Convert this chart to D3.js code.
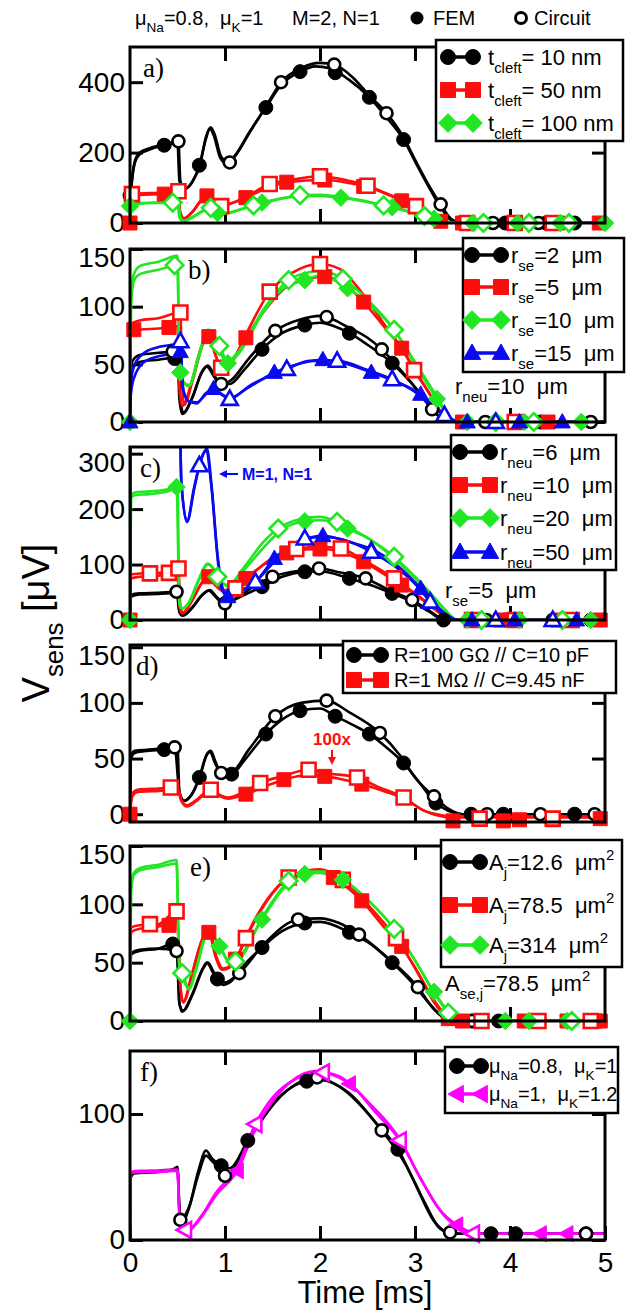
<!DOCTYPE html>
<html>
<head>
<meta charset="utf-8">
<script src="https://cdn.jsdelivr.net/npm/d3@7"></script>
<style>
  body { margin: 0; background: #fff; }
  svg { display: block; font-family: "Liberation Sans", Arial, sans-serif; }
  text { white-space: pre; }
</style>
</head>
<body>
<svg id="chart" width="639" height="1313"></svg>
<script>
// ---------- shared axis data ----------
const timeTicks = [0, 1, 2, 3, 4, 5];
const ticksA = [0, 200, 400];
const ticksB = [0, 50, 100, 150];
const ticksC = [0, 100, 200, 300];
const ticksD = [0, 50, 100, 150];
const ticksE = [0, 50, 100, 150];
const ticksF = [0, 100];

// ---------- panel a: t_cleft ----------
const aT10Fem = [[0,0],[0.01,80],[0.05,170],[0.1,195],[0.2,208],[0.36,221],[0.5,226],[0.52,120],[0.56,95],[0.65,115],[0.73,164],[0.8,240],[0.84,268],[0.88,250],[0.95,185],[1.02,168],[1.1,190],[1.25,255],[1.43,328],[1.6,395],[1.79,430],[1.95,445],[2.1,440],[2.3,408],[2.52,357],[2.7,300],[2.88,237],[3.0,175],[3.15,100],[3.27,45],[3.38,8],[3.5,0],[5,0]];
const aT10Circ = [[0,0],[0.01,85],[0.05,175],[0.1,200],[0.2,212],[0.35,222],[0.51,232],[0.53,120],[0.57,97],[0.66,118],[0.74,168],[0.8,245],[0.85,272],[0.89,252],[0.96,188],[1.04,172],[1.12,195],[1.27,262],[1.45,340],[1.59,400],[1.8,440],[2.0,455],[2.15,450],[2.35,412],[2.52,362],[2.7,312],[2.88,243],[3.0,180],[3.15,105],[3.27,53],[3.38,12],[3.5,0],[5,0]];
const aT10FemMk = [[0,78],[0.36,221],[0.73,164],[1.43,328],[1.79,430],[2.16,427],[2.52,357],[2.88,237],[3.95,0],[4.38,0],[4.68,0]];
const aT10CircMk = [[0.51,232],[1.05,172],[1.59,400],[2.15,450],[2.7,312],[3.27,53],[3.82,0],[4.3,0]];

const aT50Fem = [[0,0],[0.01,78],[0.1,80],[0.3,82],[0.5,85],[0.52,30],[0.56,12],[0.65,30],[0.75,65],[0.81,77],[0.88,60],[0.96,50],[1.05,55],[1.22,72],[1.45,100],[1.65,116],[2.05,122],[2.3,114],[2.5,103],[2.7,82],[2.86,63],[3.0,45],[3.15,22],[3.27,5],[3.4,0],[5,0]];
const aT50Circ = [[0,0],[0.01,82],[0.1,84],[0.3,86],[0.51,90],[0.53,30],[0.57,13],[0.66,32],[0.76,67],[0.82,76],[0.89,58],[0.96,48],[1.05,54],[1.22,74],[1.47,111],[1.65,120],[2.0,133],[2.3,120],[2.5,106],[2.7,84],[2.86,66],[3.01,48],[3.15,25],[3.27,7],[3.4,0],[5,0]];
const aT50FemMk = [[0,0],[0.36,82],[0.81,77],[1.22,72],[1.65,116],[2.05,122],[2.46,104],[2.86,63],[3.27,5],[3.5,0],[4.5,0],[4.94,0]];
const aT50CircMk = [[0.02,82],[0.51,90],[0.96,48],[1.47,111],[2.0,133],[2.5,106],[3.01,48],[3.55,0],[4.05,0],[4.45,0]];

const aT100Fem = [[0,0],[0.01,50],[0.1,55],[0.3,57],[0.5,58],[0.52,15],[0.56,5],[0.65,15],[0.78,35],[0.85,42],[0.92,29],[1.0,27],[1.2,42],[1.39,58],[1.6,70],[1.8,76],[2.0,77],[2.22,72],[2.45,62],[2.67,50],[2.76,45],[2.95,30],[3.1,19],[3.2,12],[3.35,3],[3.45,0],[5,0]];
const aT100Circ = [[0,0],[0.01,52],[0.1,57],[0.3,58],[0.45,58],[0.51,60],[0.53,15],[0.57,6],[0.66,17],[0.78,37],[0.85,43],[0.92,31],[1.0,29],[1.3,50],[1.5,63],[1.79,79],[2.0,80],[2.22,74],[2.45,64],[2.67,50],[2.95,32],[3.1,20],[3.2,13],[3.35,3],[3.45,0],[5,0]];
const aT100FemMk = [[0,48],[0.92,29],[1.39,58],[2.22,72],[2.76,45],[3.2,12],[3.61,0],[4.08,0],[4.53,0],[5,0]];
const aT100CircMk = [[0.45,58],[0.85,43],[1.3,50],[1.79,79],[2.67,50],[3.1,20],[3.72,0],[4.2,0],[4.62,0]];

// ---------- panel b: r_se ----------
const bR2Fem = [[0,0],[0.02,45],[0.1,52],[0.3,54],[0.5,56],[0.52,20],[0.55,7],[0.65,20],[0.75,42],[0.81,48],[0.88,40],[0.95,33],[1.05,33],[1.2,45],[1.39,63],[1.6,77],[1.84,84],[2.0,86],[2.15,83],[2.31,77],[2.5,67],[2.76,51],[2.95,35],[3.1,20],[3.25,5],[3.35,0],[5,0]];
const bR2Circ = [[0,0],[0.02,52],[0.1,58],[0.3,60],[0.45,61],[0.51,62],[0.53,20],[0.56,8],[0.66,22],[0.76,44],[0.82,49],[0.89,40],[0.96,33],[1.06,36],[1.25,55],[1.53,79],[1.8,89],[2.0,92],[2.07,91],[2.3,82],[2.5,73],[2.65,63],[2.85,45],[3.0,30],[3.18,11],[3.3,2],[3.4,0],[5,0]];
const bR2FemMk = [[0.47,55],[1.39,63],[1.84,84],[2.31,77],[2.76,51],[4.32,0]];
const bR2CircMk = [[0.45,61],[0.96,33],[1.53,79],[2.07,91],[2.65,63],[3.18,11],[3.74,0],[4.85,0]];

const bR5Fem = [[0,0],[0.01,78],[0.1,80],[0.3,81],[0.5,83],[0.52,30],[0.55,14],[0.65,35],[0.75,65],[0.83,74],[0.9,58],[0.96,47],[1.05,50],[1.22,73],[1.45,100],[1.7,120],[2.05,126],[2.25,120],[2.46,104],[2.7,80],[2.86,64],[3.0,45],[3.15,25],[3.3,5],[3.4,0],[5,0]];
const bR5Circ = [[0,0],[0.01,85],[0.1,88],[0.3,90],[0.53,95],[0.55,30],[0.57,15],[0.66,36],[0.76,66],[0.83,75],[0.9,58],[0.96,47],[1.06,51],[1.22,76],[1.47,113],[1.7,129],[2.0,137],[2.2,133],[2.46,110],[2.7,82],[2.86,64],[2.99,45],[3.15,25],[3.3,6],[3.4,0],[5,0]];
const bR5FemMk = [[0.04,80],[0.41,82],[0.83,74],[1.22,73],[2.05,126],[2.46,104],[2.86,64],[3.5,0],[4.4,0]];
const bR5CircMk = [[0.53,95],[0.96,47],[1.47,113],[2.0,137],[2.99,45],[4.05,0]];

const bR10Fem = [[0,0],[0.01,100],[0.04,122],[0.1,128],[0.3,132],[0.5,136],[0.52,45],[0.56,35],[0.62,31],[0.72,55],[0.82,78],[0.86,78],[0.94,62],[1.03,51],[1.15,60],[1.4,95],[1.6,115],[1.84,123],[2.0,127],[2.29,116],[2.5,103],[2.78,80],[3.0,50],[3.23,20],[3.35,5],[3.45,0],[5,0]];
const bR10Circ = [[0,0],[0.01,105],[0.04,128],[0.1,135],[0.3,139],[0.5,144],[0.52,45],[0.56,35],[0.62,32],[0.72,57],[0.82,80],[0.86,79],[0.94,66],[1.03,53],[1.15,62],[1.4,97],[1.67,123],[1.9,130],[2.03,131],[2.24,124],[2.5,106],[2.78,80],[3.0,52],[3.23,22],[3.35,6],[3.45,0],[5,0]];
const bR10FemMk = [[0,0],[0.53,43],[1.03,51],[1.84,123],[2.29,116],[3.23,20],[3.55,0],[4.15,0],[4.75,0]];
const bR10CircMk = [[0.47,136],[0.94,66],[1.67,123],[2.24,124],[2.78,80],[3.85,0],[4.25,0]];

const bR15Fem = [[0,0],[0.01,25],[0.05,40],[0.15,52],[0.3,57],[0.5,60],[0.53,61],[0.56,28],[0.62,18],[0.7,17],[0.8,24],[0.88,29],[0.95,25],[1.05,21],[1.25,30],[1.52,43],[1.8,51],[2.03,54],[2.2,52],[2.54,43],[2.8,35],[3.06,24],[3.25,10],[3.4,2],[3.5,0],[5,0]];
const bR15Circ = [[0,0],[0.01,35],[0.05,50],[0.15,60],[0.3,65],[0.5,68],[0.53,70],[0.56,28],[0.62,18],[0.7,16],[0.8,25],[0.88,28],[0.96,24],[1.05,20],[1.25,31],[1.65,46],[1.9,53],[2.18,53],[2.5,45],[2.76,37],[3.0,26],[3.2,12],[3.31,6],[3.45,0],[5,0]];
const bR15FemMk = [[0,0],[0.53,61],[0.88,29],[1.52,43],[2.03,54],[2.54,43],[3.06,24],[3.55,0],[4.1,0],[4.55,0]];
const bR15CircMk = [[0.53,70],[1.05,20],[1.65,46],[2.18,53],[2.76,37],[3.31,6],[3.85,0]];

// ---------- panel c: r_neu ----------
const cN6Fem = [[0,0],[0.01,42],[0.1,46],[0.3,47],[0.5,49],[0.52,15],[0.55,8],[0.65,22],[0.76,45],[0.83,53],[0.9,42],[0.98,30],[1.08,35],[1.2,45],[1.39,60],[1.6,78],[1.84,87],[2.0,88],[2.31,75],[2.5,65],[2.76,48],[3.0,30],[3.15,15],[3.3,0],[5,0]];
const cN6Circ = [[0,0],[0.01,45],[0.1,48],[0.3,49],[0.49,51],[0.52,15],[0.56,8],[0.66,23],[0.77,47],[0.84,54],[0.91,42],[1.0,30],[1.1,38],[1.3,60],[1.5,78],[1.75,88],[1.99,93],[2.2,86],[2.48,75],[2.75,52],[2.97,36],[3.15,17],[3.3,1],[3.4,0],[5,0]];
const cN6FemMk = [[1.39,60],[1.84,87],[2.31,75],[2.76,48],[3.3,0],[3.95,0],[4.85,0]];
const cN6CircMk = [[0.49,51],[1.0,30],[1.5,78],[1.99,93],[2.48,75],[2.97,36],[3.75,0],[4.45,0]];

const cN10Fem = [[0,0],[0.01,75],[0.1,78],[0.3,80],[0.5,85],[0.52,25],[0.55,12],[0.65,35],[0.76,68],[0.83,78],[0.9,62],[0.98,52],[1.1,58],[1.22,75],[1.45,105],[1.7,124],[2.0,128],[2.2,124],[2.46,105],[2.7,80],[2.86,63],[3.05,40],[3.2,20],[3.35,3],[3.45,0],[5,0]];
const cN10Circ = [[0,0],[0.01,82],[0.1,84],[0.3,85],[0.51,93],[0.53,25],[0.56,13],[0.66,37],[0.77,70],[0.84,78],[0.91,62],[1.0,54],[1.11,57],[1.3,85],[1.5,112],[1.75,128],[2.0,132],[2.22,129],[2.46,108],[2.78,75],[3.0,48],[3.2,22],[3.35,4],[3.45,0],[5,0]];
const cN10FemMk = [[0,0],[0.83,78],[1.22,75],[1.65,121],[2.0,128],[2.46,105],[2.86,63],[3.9,0],[4.5,0],[4.95,0]];
const cN10CircMk = [[0.21,84],[0.41,85],[0.51,93],[1.11,57],[1.75,128],[2.22,129],[2.78,75],[3.6,0],[4.05,0],[4.65,0]];

const cN20Fem = [[0,0],[0.01,220],[0.05,225],[0.2,227],[0.4,232],[0.5,240],[0.52,30],[0.55,20],[0.62,30],[0.72,70],[0.82,100],[0.88,92],[0.95,72],[1.03,60],[1.2,90],[1.43,135],[1.6,163],[1.84,178],[2.0,180],[2.15,176],[2.29,165],[2.5,148],[2.78,111],[3.0,75],[3.14,51],[3.3,20],[3.45,0],[5,0]];
const cN20Circ = [[0,0],[0.01,225],[0.05,230],[0.2,232],[0.4,236],[0.49,245],[0.52,30],[0.55,21],[0.62,32],[0.72,72],[0.82,102],[0.88,92],[0.92,78],[1.03,63],[1.2,95],[1.4,140],[1.56,165],[1.8,182],[2.0,186],[2.18,177],[2.4,158],[2.78,114],[3.0,78],[3.14,53],[3.3,22],[3.45,0],[5,0]];
const cN20FemMk = [[0,0],[0.49,240],[1.84,178],[2.29,165],[2.78,111],[3.55,0],[4.1,0],[4.85,0]];
const cN20CircMk = [[0.92,78],[1.56,165],[2.18,177],[2.78,114],[3.7,0],[4.55,0]];

const cN50Fem = [[0,0],[0.005,400],[0.52,400],[0.54,250],[0.6,177],[0.68,240],[0.75,290],[0.81,309],[0.86,240],[0.92,120],[0.97,60],[1.03,42],[1.15,50],[1.32,69],[1.52,111],[1.8,143],[2.03,152],[2.3,141],[2.54,128],[2.8,100],[3.06,57],[3.2,30],[3.35,8],[3.45,0],[5,0]];
const cN50Circ = [[0,0],[0.005,400],[0.52,400],[0.54,250],[0.6,177],[0.67,235],[0.73,279],[0.8,305],[0.86,235],[0.92,115],[0.96,57],[1.02,45],[1.15,52],[1.32,69],[1.52,105],[1.84,147],[2.03,150],[2.3,142],[2.54,123],[2.8,95],[3.0,65],[3.16,33],[3.3,10],[3.45,0],[5,0]];
const cN50FemMk = [[1.03,42],[1.52,111],[2.03,152],[2.54,128],[3.06,57],[3.6,0],[4.05,0],[4.7,0]];
const cN50CircMk = [[0.73,279],[1.32,69],[1.84,147],[2.54,123],[3.16,33],[3.85,0],[4.45,0]];

// ---------- panel d: electrode load ----------
const dHighFem = [[0,0],[0.01,50],[0.05,55],[0.2,57],[0.36,58],[0.5,60],[0.52,20],[0.56,12],[0.65,18],[0.73,33],[0.8,52],[0.84,56],[0.9,45],[0.97,36],[1.07,36],[1.2,48],[1.43,72],[1.6,85],[1.79,93],[2.0,95],[2.16,88],[2.35,80],[2.52,72],[2.7,60],[2.88,46],[3.05,28],[3.2,12],[3.35,3],[3.5,0],[5,0]];
const dHighCirc = [[0,0],[0.01,52],[0.05,57],[0.2,58],[0.47,60],[0.52,20],[0.57,12],[0.66,19],[0.74,35],[0.81,54],[0.85,57],[0.9,47],[0.96,37],[1.07,38],[1.25,58],[1.53,88],[1.8,100],[2.07,102],[2.3,92],[2.63,73],[2.85,52],[3.0,33],[3.2,16],[3.35,5],[3.5,0],[5,0]];
const dHighFemMk = [[0.36,58],[0.73,33],[1.07,36],[1.43,72],[1.79,93],[2.16,88],[2.52,72],[2.88,46],[3.22,10],[3.59,0],[3.93,0],[4.68,0]];
const dHighCircMk = [[0.47,60],[0.96,37],[1.53,88],[2.07,102],[2.63,73],[3.2,16],[3.76,0],[4.32,0],[4.89,0]];

const dLowFem = [[0,0],[0.02,15],[0.08,20],[0.3,21],[0.5,22],[0.54,12],[0.6,7],[0.7,12],[0.8,19],[0.85,20],[0.95,16],[1.03,14],[1.22,18],[1.45,26],[1.62,31],[1.85,35],[2.05,34],[2.3,30],[2.44,27],[2.7,20],[2.88,14],[3.1,3],[3.23,-1],[3.4,-3],[5,-3]];
const dLowCirc = [[0,0],[0.02,18],[0.08,22],[0.3,23],[0.5,24],[0.54,13],[0.6,8],[0.7,13],[0.8,20],[0.85,22],[0.95,17],[1.03,15],[1.2,20],[1.37,28],[1.6,34],[1.88,40],[2.05,37],[2.39,33],[2.6,25],[2.88,15],[3.1,3],[3.23,0],[3.4,-2],[5,-2]];
const dLowFemMk = [[0,0],[1.22,18],[1.62,31],[2.05,34],[2.44,27],[3.4,-6],[3.93,-6],[4.1,-5],[4.45,-5],[4.95,-4]];
const dLowCircMk = [[0.43,24],[0.85,22],[1.37,28],[1.88,40],[2.39,33],[2.88,15],[3.68,-4],[4.45,-4]];

// ---------- panel e: A_j ----------
const eA12Fem = [[0,0],[0.01,57],[0.1,60],[0.3,62],[0.45,66],[0.5,65],[0.52,15],[0.55,8],[0.65,22],[0.76,44],[0.81,50],[0.87,42],[0.92,36],[0.98,31],[1.05,33],[1.2,48],[1.39,63],[1.6,77],[1.84,84],[2.0,85],[2.31,76],[2.55,65],[2.76,50],[3.0,30],[3.15,15],[3.3,3],[3.4,0],[5,0]];
const eA12Circ = [[0,0],[0.01,58],[0.1,61],[0.3,62],[0.49,60],[0.52,15],[0.56,9],[0.66,23],[0.77,45],[0.82,50],[0.88,42],[0.94,35],[1.0,33],[1.15,41],[1.4,65],[1.77,87],[2.0,88],[2.2,84],[2.41,74],[2.7,55],[3.03,29],[3.2,10],[3.3,3],[3.4,0],[5,0]];
const eA12FemMk = [[0.45,66],[0.92,36],[1.39,63],[1.84,84],[2.31,76],[2.76,50],[3.6,0],[3.88,0],[4.25,0],[4.95,0]];
const eA12CircMk = [[0.49,60],[1.15,41],[1.77,87],[2.41,74],[3.03,29],[3.6,0],[4.3,0]];

const eA78Fem = [[0,0],[0.01,76],[0.1,79],[0.3,81],[0.45,84],[0.5,86],[0.53,30],[0.56,16],[0.65,40],[0.76,70],[0.83,76],[0.9,55],[0.97,44],[1.05,46],[1.11,53],[1.3,85],[1.5,110],[1.7,124],[2.0,128],[2.14,123],[2.44,103],[2.7,78],[2.86,64],[3.05,38],[3.2,16],[3.35,2],[3.45,0],[5,0]];
const eA78Circ = [[0,0],[0.01,80],[0.1,82],[0.3,83],[0.49,94],[0.53,30],[0.56,16],[0.66,41],[0.77,71],[0.84,76],[0.91,55],[0.98,45],[1.08,48],[1.22,71],[1.45,104],[1.67,123],[2.0,130],[2.24,121],[2.5,100],[2.8,71],[3.0,46],[3.2,18],[3.35,3],[3.45,0],[5,0]];
const eA78FemMk = [[0.41,82],[0.83,76],[1.11,53],[2.14,123],[2.44,103],[2.86,64],[3.35,2],[3.5,0],[4.15,0],[4.6,0],[4.95,0]];
const eA78CircMk = [[0.21,83],[0.49,94],[1.22,71],[1.67,123],[2.24,121],[2.8,71],[3.7,0],[4.3,0],[4.85,0]];

const eA314Fem = [[0,0],[0.01,110],[0.04,125],[0.1,129],[0.3,132],[0.49,135],[0.52,45],[0.56,36],[0.62,27],[0.7,45],[0.8,73],[0.84,75],[0.94,64],[1.05,50],[1.15,55],[1.39,87],[1.6,112],[1.84,126],[2.0,127],[2.24,121],[2.5,104],[2.78,79],[3.0,52],[3.2,25],[3.35,8],[3.45,0],[5,0]];
const eA314Circ = [[0,0],[0.01,112],[0.04,127],[0.1,131],[0.3,134],[0.49,138],[0.52,45],[0.55,41],[0.62,28],[0.7,46],[0.8,74],[0.84,76],[0.94,65],[1.05,51],[1.11,51],[1.4,90],[1.67,120],[1.9,128],[2.05,128],[2.3,118],[2.5,104],[2.78,79],[3.0,52],[3.2,24],[3.35,7],[3.45,0],[5,0]];
const eA314FemMk = [[0,0],[0.94,64],[1.39,87],[1.84,126],[2.24,121],[3.2,25],[3.95,0],[4.2,0],[4.6,0]];
const eA314CircMk = [[0.55,41],[1.11,51],[1.67,120],[2.78,79],[3.35,7],[4.65,0]];

// ---------- panel f: mobility ----------
const fMu08Fem = [[0,0],[0.01,50],[0.05,53],[0.3,54],[0.45,56],[0.5,58],[0.52,25],[0.55,14],[0.62,25],[0.72,55],[0.8,71],[0.86,65],[0.96,59],[1.05,57],[1.24,79],[1.5,108],[1.86,126],[2.0,127],[2.3,117],[2.6,92],[2.82,72],[3.0,45],[3.2,15],[3.35,6],[3.5,5],[5,5]];
const fMu08Circ = [[0,0],[0.01,52],[0.05,54],[0.3,55],[0.5,56],[0.52,25],[0.53,16],[0.62,26],[0.72,52],[0.8,67],[0.86,63],[0.95,55],[1.0,51],[1.1,58],[1.3,85],[1.6,115],[1.97,129],[2.2,122],[2.65,87],[2.9,60],[3.1,30],[3.25,10],[3.35,6],[3.5,5],[5,5]];
const fMu08FemMk = [[0.96,59],[1.24,79],[1.86,126],[2.82,72],[3.8,5],[4.06,5],[4.8,5]];
const fMu08CircMk = [[0.53,16],[1.0,51],[1.97,129],[2.65,87],[3.37,6],[4.8,5]];

const fMu1Fem = [[0,0],[0.01,53],[0.1,54],[0.3,54],[0.5,55],[0.52,20],[0.56,8],[0.62,8],[0.75,18],[0.9,35],[1.13,55],[1.32,88],[1.5,110],[1.7,126],[1.95,134],[2.1,132],[2.31,124],[2.6,100],[2.84,79],[3.05,50],[3.25,25],[3.44,12],[3.6,6],[3.7,5],[5,5]];
const fMu1Circ = [[0,0],[0.01,54],[0.1,55],[0.3,55],[0.5,56],[0.52,20],[0.56,9],[0.62,9],[0.75,19],[0.9,37],[1.13,58],[1.32,92],[1.5,113],[1.75,128],[2.0,133],[2.2,130],[2.5,110],[2.84,80],[3.05,50],[3.3,20],[3.5,8],[3.61,5],[5,5]];
const fMu1FemMk = [[1.13,55],[2.31,124],[3.44,12],[4.32,5],[4.6,5]];
const fMu1CircMk = [[0.58,8],[1.32,92],[2.03,133],[2.84,79],[3.61,5]];

// ---------- legend / note texts (parts: [text, "" | "sub" | "sup"]) ----------
const legendA = [
  [["t",""],["cleft","sub"],["= 10 nm",""]],
  [["t",""],["cleft","sub"],["= 50 nm",""]],
  [["t",""],["cleft","sub"],["= 100 nm",""]]
];
const legendB = [
  [["r",""],["se","sub"],["=2  μm",""]],
  [["r",""],["se","sub"],["=5  μm",""]],
  [["r",""],["se","sub"],["=10  μm",""]],
  [["r",""],["se","sub"],["=15  μm",""]]
];
const legendC = [
  [["r",""],["neu","sub"],["=6  μm",""]],
  [["r",""],["neu","sub"],["=10  μm",""]],
  [["r",""],["neu","sub"],["=20  μm",""]],
  [["r",""],["neu","sub"],["=50  μm",""]]
];
const legendD = [
  [["R=100 GΩ // C=10 pF",""]],
  [["R=1 MΩ // C=9.45 nF",""]]
];
const legendE = [
  [["A",""],["j","sub"],["=12.6  μm",""],["2","sup"]],
  [["A",""],["j","sub"],["=78.5  μm",""],["2","sup"]],
  [["A",""],["j","sub"],["=314  μm",""],["2","sup"]]
];
const legendF = [
  [["μ",""],["Na","sub"],["=0.8,  μ",""],["K","sub"],["=1",""]],
  [["μ",""],["Na","sub"],["=1,  μ",""],["K","sub"],["=1.2",""]]
];
const noteB = [["r",""],["neu","sub"],["=10  μm",""]];
const noteC = [["r",""],["se","sub"],["=5  μm",""]];
const noteE = [["A",""],["se,j","sub"],["=78.5  μm",""],["2","sup"]];
const titleParts = [["μ",""],["Na","sub"],["=0.8,  μ",""],["K","sub"],["=1",""]];
const yTitleParts = [["V",""],["sens","sub"],[" [μV]",""]];

// ---------- drawing ----------
const svg = d3.select("#chart");
const W = 639, H = 1313;
svg.append("rect").attr("width", W).attr("height", H).attr("fill", "#fff");

const x = d3.scaleLinear().domain([0, 5]).range([130, 605]);

const BLACK = "#000", RED = "#ff0d0d", GREEN = "#22e622", BLUE = "#0a0af0", MAGENTA = "#ff00ff";
const MK = 7;

function richText(g, px, py, parts, size, fill, extra) {
  const t = g.append("text").attr("x", px).attr("y", py)
    .attr("font-size", size).attr("fill", fill || "#000");
  if (extra) extra(t);
  let shift = 0;
  parts.forEach(([s, kind]) => {
    const target = kind === "sub" ? size * 0.36 : kind === "sup" ? -size * 0.45 : 0;
    const ts = t.append("tspan").text(s).attr("dy", target - shift);
    if (kind) ts.attr("font-size", size * 0.68);
    shift = target;
  });
  return t;
}

function marker(g, shape, cx, cy, color, filled, s) {
  let el;
  if (shape === "circle") {
    el = g.append("circle").attr("cx", cx).attr("cy", cy).attr("r", filled ? s : s - 1);
  } else {
    let d;
    if (shape === "square") d = `M${cx - s},${cy - s}h${2 * s}v${2 * s}h${-2 * s}Z`;
    else if (shape === "diamond") { const k = s * 1.25; d = `M${cx},${cy - k}L${cx + k},${cy}L${cx},${cy + k}L${cx - k},${cy}Z`; }
    else if (shape === "tri") d = `M${cx},${cy - s * 1.2}L${cx + s * 1.15},${cy + s * 0.85}L${cx - s * 1.15},${cy + s * 0.85}Z`;
    else d = `M${cx - s * 1.2},${cy}L${cx + s * 0.85},${cy - s * 1.15}L${cx + s * 0.85},${cy + s * 1.15}Z`;
    el = g.append("path").attr("d", d);
  }
  el.attr("fill", filled ? color : "#fff").attr("stroke", color)
    .attr("stroke-width", filled ? 1 : 2.6);
  return el;
}

const panels = [
  { id: "a", top: 47, bottom: 223, domain: [0, 500], ticks: ticksA, label: "a)", labelX: 143,
    series: [
      { color: BLACK, shape: "circle", fem: aT10Fem, circ: aT10Circ, femMk: aT10FemMk, circMk: aT10CircMk },
      { color: RED, shape: "square", fem: aT50Fem, circ: aT50Circ, femMk: aT50FemMk, circMk: aT50CircMk },
      { color: GREEN, shape: "diamond", fem: aT100Fem, circ: aT100Circ, femMk: aT100FemMk, circMk: aT100CircMk }
    ],
    legend: { x: 436, y: 40, w: 187, h: 101, rows: [57, 90, 123], sym: [448, 473], tx: 488, size: 22, labels: legendA } },
  { id: "b", top: 249, bottom: 422, domain: [0, 150], ticks: ticksB, label: "b)", labelX: 188,
    series: [
      { color: BLACK, shape: "circle", fem: bR2Fem, circ: bR2Circ, femMk: bR2FemMk, circMk: bR2CircMk },
      { color: RED, shape: "square", fem: bR5Fem, circ: bR5Circ, femMk: bR5FemMk, circMk: bR5CircMk },
      { color: GREEN, shape: "diamond", fem: bR10Fem, circ: bR10Circ, femMk: bR10FemMk, circMk: bR10CircMk },
      { color: BLUE, shape: "tri", fem: bR15Fem, circ: bR15Circ, femMk: bR15FemMk, circMk: bR15CircMk }
    ],
    legend: { x: 463, y: 238, w: 161, h: 134, rows: [255, 287, 320, 353], sym: [472, 501], tx: 511, size: 22, labels: legendB },
    note: { x: 455, y: 394, parts: noteB } },
  { id: "c", top: 447, bottom: 620, domain: [0, 312], ticks: ticksC, label: "c)", labelX: 140,
    series: [
      { color: BLACK, shape: "circle", fem: cN6Fem, circ: cN6Circ, femMk: cN6FemMk, circMk: cN6CircMk },
      { color: RED, shape: "square", fem: cN10Fem, circ: cN10Circ, femMk: cN10FemMk, circMk: cN10CircMk },
      { color: GREEN, shape: "diamond", fem: cN20Fem, circ: cN20Circ, femMk: cN20FemMk, circMk: cN20CircMk },
      { color: BLUE, shape: "tri", fem: cN50Fem, circ: cN50Circ, femMk: cN50FemMk, circMk: cN50CircMk }
    ],
    legend: { x: 451, y: 435, w: 165, h: 135, rows: [452, 485, 518, 552], sym: [460, 490], tx: 500, size: 22, labels: legendC },
    note: { x: 445, y: 598, parts: noteC } },
  { id: "d", top: 645, bottom: 822, domain: [-7, 152], ticks: ticksD, label: "d)", labelX: 136,
    series: [
      { color: BLACK, shape: "circle", fem: dHighFem, circ: dHighCirc, femMk: dHighFemMk, circMk: dHighCircMk },
      { color: RED, shape: "square", fem: dLowFem, circ: dLowCirc, femMk: dLowFemMk, circMk: dLowCircMk }
    ],
    legend: { x: 343, y: 641, w: 273, h: 52, rows: [655, 680], sym: [354, 381], tx: 394, size: 20, labels: legendD } },
  { id: "e", top: 846, bottom: 1021, domain: [0, 150], ticks: ticksE, label: "e)", labelX: 190,
    series: [
      { color: BLACK, shape: "circle", fem: eA12Fem, circ: eA12Circ, femMk: eA12FemMk, circMk: eA12CircMk },
      { color: RED, shape: "square", fem: eA78Fem, circ: eA78Circ, femMk: eA78FemMk, circMk: eA78CircMk },
      { color: GREEN, shape: "diamond", fem: eA314Fem, circ: eA314Circ, femMk: eA314FemMk, circMk: eA314CircMk }
    ],
    legend: { x: 441, y: 840, w: 181, h: 127, rows: [862, 905, 945], sym: [450, 480], tx: 489, size: 22, labels: legendE },
    note: { x: 445, y: 991, parts: noteE } },
  { id: "f", top: 1051, bottom: 1240, domain: [0, 150], ticks: ticksF, label: "f)", labelX: 140,
    series: [
      { color: BLACK, shape: "circle", fem: fMu08Fem, circ: fMu08Circ, femMk: fMu08FemMk, circMk: fMu08CircMk },
      { color: MAGENTA, shape: "ltri", fem: fMu1Fem, circ: fMu1Circ, femMk: fMu1FemMk, circMk: fMu1CircMk }
    ],
    legend: { x: 445, y: 1047, w: 173, h: 66, rows: [1066, 1094], sym: [457, 481], tx: 489, size: 20, labels: legendF },
    xLabels: true }
];

function styleAxis(sel) {
  sel.select(".domain").remove();
  sel.selectAll(".tick line").attr("stroke", "#000").attr("stroke-width", 3);
  sel.selectAll(".tick text").attr("font-size", 28).attr("fill", "#000")
    .attr("font-family", "'Liberation Sans', Arial, sans-serif");
}

panels.forEach(p => {
  const y = d3.scaleLinear().domain(p.domain).range([p.bottom, p.top]);
  const g = svg.append("g").attr("class", "panel-" + p.id);
  const clipId = "clip-" + p.id;
  svg.append("clipPath").attr("id", clipId).append("rect")
    .attr("x", x(0)).attr("y", p.top).attr("width", x(5) - x(0)).attr("height", p.bottom - p.top);

  // ticks (inward) on all four sides
  const axL = g.append("g").attr("transform", `translate(${x(0)},0)`)
    .call(d3.axisLeft(y).tickValues(p.ticks).tickSizeInner(-13).tickSizeOuter(0).tickPadding(5).tickFormat(d3.format("d")));
  styleAxis(axL);
  axL.selectAll(".tick").filter(d => y(d) - p.top < 12).select("text").attr("dy", "0.62em");
  const axR = g.append("g").attr("transform", `translate(${x(5)},0)`)
    .call(d3.axisRight(y).tickValues(p.ticks).tickSizeInner(-13).tickSizeOuter(0).tickFormat(""));
  styleAxis(axR);
  const axT = g.append("g").attr("transform", `translate(0,${p.top})`)
    .call(d3.axisTop(x).tickValues([1, 2, 3, 4]).tickSizeInner(-14).tickSizeOuter(0).tickFormat(""));
  styleAxis(axT);
  const axB = g.append("g").attr("transform", `translate(0,${p.bottom})`)
    .call(d3.axisBottom(x).tickValues(p.xLabels ? timeTicks : [1, 2, 3, 4]).tickSizeInner(-14).tickSizeOuter(0)
      .tickPadding(12).tickFormat(p.xLabels ? d3.format("d") : ""));
  styleAxis(axB);

  // curves (circuit and FEM traces of each series)
  const line = d3.line().x(d => x(d[0])).y(d => y(d[1])).curve(d3.curveMonotoneX);
  const curves = g.append("g").attr("clip-path", `url(#${clipId})`);
  p.series.forEach(s => {
    [s.circ, s.fem].forEach(arr => {
      curves.append("path").attr("d", line(arr)).attr("fill", "none")
        .attr("stroke", s.color).attr("stroke-width", 2.6).attr("stroke-linejoin", "round");
    });
  });
  // markers: filled = FEM, open = circuit
  const mk = g.append("g");
  p.series.forEach(s => {
    s.femMk.forEach(d => marker(mk, s.shape, x(d[0]), y(d[1]), s.color, true, MK));
    s.circMk.forEach(d => marker(mk, s.shape, x(d[0]), y(d[1]), s.color, false, MK));
  });

  // frame
  g.append("rect").attr("x", x(0)).attr("y", p.top).attr("width", x(5) - x(0)).attr("height", p.bottom - p.top)
    .attr("fill", "none").attr("stroke", "#000").attr("stroke-width", 3);

  // panel label
  g.append("text").attr("x", p.labelX).attr("y", p.top + 30).attr("font-size", 27)
    .attr("font-family", "'Liberation Serif', 'Times New Roman', serif").text(p.label);

  // legend
  const L = p.legend;
  const lg = g.append("g");
  lg.append("rect").attr("x", L.x).attr("y", L.y).attr("width", L.w).attr("height", L.h)
    .attr("fill", "#fff").attr("stroke", "#000").attr("stroke-width", 2.5);
  p.series.forEach((s, i) => {
    const ry = L.rows[i];
    lg.append("line").attr("x1", L.sym[0]).attr("x2", L.sym[1]).attr("y1", ry).attr("y2", ry)
      .attr("stroke", s.color).attr("stroke-width", 3.5);
    marker(lg, s.shape, L.sym[0], ry, s.color, true, 7.5);
    marker(lg, s.shape, L.sym[1], ry, s.color, true, 7.5);
    richText(lg, L.tx, ry + L.size * 0.36, L.labels[i], L.size);
  });
  if (p.note) richText(g, p.note.x, p.note.y, p.note.parts, 22);
});

// annotation in panel c: M=1, N=1 trace
{
  const ann = svg.append("g");
  ann.append("line").attr("x1", 238).attr("x2", 224).attr("y1", 474).attr("y2", 474)
    .attr("stroke", BLUE).attr("stroke-width", 2);
  ann.append("path").attr("d", "M219,474L227,470L227,478Z").attr("fill", BLUE);
  ann.append("text").attr("x", 242).attr("y", 480).attr("font-size", 16).attr("font-weight", "bold")
    .attr("fill", BLUE).text("M=1, N=1");
}
// annotation in panel d: 100x scaling of the red trace
{
  const ann = svg.append("g");
  ann.append("text").attr("x", 332).attr("y", 745).attr("text-anchor", "middle").attr("font-size", 17)
    .attr("font-weight", "bold").attr("fill", RED).text("100x");
  ann.append("line").attr("x1", 332).attr("x2", 332).attr("y1", 750).attr("y2", 759)
    .attr("stroke", RED).attr("stroke-width", 2);
  ann.append("path").attr("d", "M332,765L328,757L336,757Z").attr("fill", RED);
}

// header line
{
  const hd = svg.append("g");
  richText(hd, 135, 25, titleParts, 20);
  hd.append("text").attr("x", 292).attr("y", 25).attr("font-size", 20).text("M=2, N=1");
  hd.append("circle").attr("cx", 417).attr("cy", 18).attr("r", 6.5).attr("fill", "#000");
  hd.append("text").attr("x", 433).attr("y", 25).attr("font-size", 20).text("FEM");
  hd.append("circle").attr("cx", 521).attr("cy", 18).attr("r", 5.5).attr("fill", "#fff")
    .attr("stroke", "#000").attr("stroke-width", 3);
  hd.append("text").attr("x", 534).attr("y", 25).attr("font-size", 20).text("Circuit");
}

// axis titles
richText(svg, 0, 0, yTitleParts, 38, "#000",
  t => t.attr("text-anchor", "middle").attr("transform", "translate(49,623) rotate(-90)"));
svg.append("text").attr("x", 365).attr("y", 1303).attr("text-anchor", "middle")
  .attr("font-size", 31).text("Time [ms]");
</script>
</body>
</html>
